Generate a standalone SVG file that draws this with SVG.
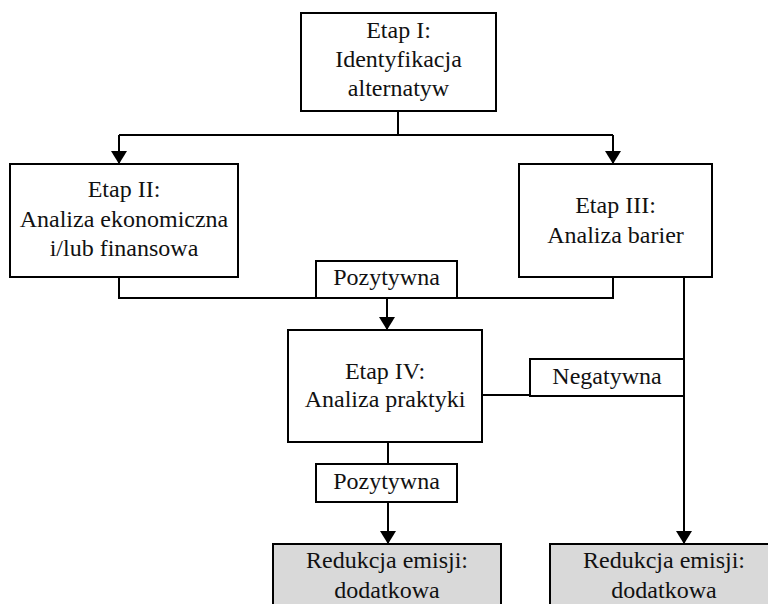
<svg xmlns="http://www.w3.org/2000/svg" width="768" height="604" viewBox="0 0 768 604" font-family="'Liberation Serif', 'Times New Roman', serif">
<style>
.box{fill:#ffffff;stroke:#000;stroke-width:2}
.res{fill:#d9d9d9;stroke:#000;stroke-width:2}
.lbl{fill:#ffffff;stroke:#000;stroke-width:2}
.t{font-family:'Liberation Serif','Times New Roman',serif;font-size:24px;fill:#111;text-anchor:middle}
.c{fill:none;stroke:#000;stroke-width:2}
</style>
<defs>
<marker id="ah" markerUnits="userSpaceOnUse" markerWidth="13" markerHeight="16" refX="13" refY="8" orient="auto" viewBox="0 0 13 16">
<path d="M0,0 L13,8 L0,16 Z" fill="#000"/>
</marker>
</defs>
<rect width="768" height="604" fill="#fff"/>
<g id="connectors">
<path class="c" d="M398,111 V135"/>
<path class="c" d="M119,135 H613"/>
<path class="c" d="M119,135 V164" marker-end="url(#ah)"/>
<path class="c" d="M613,135 V164" marker-end="url(#ah)"/>
<path class="c" d="M119,277 V298 H613 V277"/>
<path class="c" d="M387,298 V330" marker-end="url(#ah)"/>
<path class="c" d="M684,277 V544" marker-end="url(#ah)"/>
<path class="c" d="M482,395 H530"/>
<path class="c" d="M388,442 V464"/>
<path class="c" d="M388,502 V544" marker-end="url(#ah)"/>
</g>
<g id="n1">
<rect class="box" x="301" y="13" width="195" height="98"/>
<text class="t" x="398.5" y="38">Etap I:</text>
<text class="t" x="398.5" y="67">Identyfikacja</text>
<text class="t" x="398.5" y="96">alternatyw</text>
</g>
<g id="n2">
<rect class="box" x="10" y="164" width="228" height="113"/>
<text class="t" x="124" y="197">Etap II:</text>
<text class="t" x="124" y="227">Analiza ekonomiczna</text>
<text class="t" x="124" y="256">i/lub finansowa</text>
</g>
<g id="n3">
<rect class="box" x="519" y="164" width="193" height="113"/>
<text class="t" x="615.5" y="213">Etap III:</text>
<text class="t" x="615.5" y="243">Analiza barier</text>
</g>
<g id="l1">
<rect class="lbl" x="316" y="261" width="141" height="37"/>
<text class="t" x="386.5" y="285">Pozytywna</text>
</g>
<g id="n4">
<rect class="box" x="288" y="330" width="194" height="112"/>
<text class="t" x="385" y="379">Etap IV:</text>
<text class="t" x="385" y="407">Analiza praktyki</text>
</g>
<g id="l2">
<rect class="lbl" x="530" y="359" width="154" height="37"/>
<text class="t" x="607" y="384">Negatywna</text>
</g>
<g id="l3">
<rect class="lbl" x="316" y="464" width="141" height="38"/>
<text class="t" x="386.5" y="489">Pozytywna</text>
</g>
<g id="n5">
<rect class="res" x="273" y="544" width="228" height="70"/>
<text class="t" x="387" y="568">Redukcja emisji:</text>
<text class="t" x="387" y="598">dodatkowa</text>
</g>
<g id="n6">
<rect class="res" x="550" y="544" width="228" height="70"/>
<text class="t" x="664" y="568">Redukcja emisji:</text>
<text class="t" x="664" y="598">dodatkowa</text>
</g>
</svg>
